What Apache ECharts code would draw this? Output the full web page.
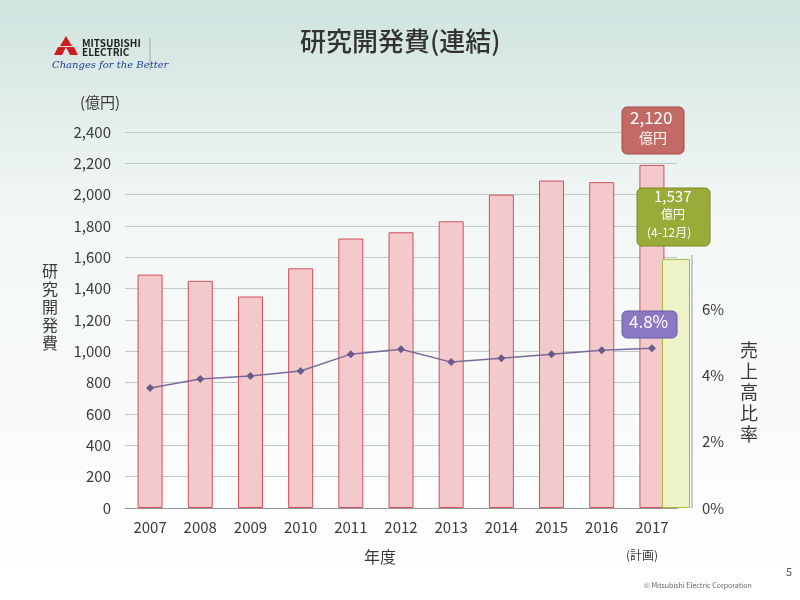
<!DOCTYPE html>
<html><head><meta charset="utf-8">
<script src="https://cdn.jsdelivr.net/npm/echarts@6/dist/echarts.min.js"></script>
<style>html,body{margin:0;padding:0;}#c{width:800px;height:600px;}</style>
</head><body><div id="c"></div>
<script>
const years = ['2007','2008','2009','2010','2011','2012','2013','2014','2015','2016','2017'];
const rdCost = [1490,1450,1350,1530,1720,1760,1830,2000,2090,2080,2190];
const rdCostPartial = [1590];
const ratio = [3.62,3.89,3.98,4.13,4.64,4.79,4.40,4.52,4.64,4.76,4.82];

const chart = echarts.init(document.getElementById('c'));
const F = '"Noto Sans CJK JP", sans-serif';
const tc = '#3a3a3a';
const g = [
    {type:'text',left:300,top:28,style:{text:'研究開発費(連結)',font:'500 26px '+F,fill:'#333'}},
    {type:'polygon',shape:{points:[[66,36],[72,46],[60,46]]},style:{fill:'#d01c1c'}},
    {type:'polygon',shape:{points:[[58,47],[66,47],[62,55],[54,55]]},style:{fill:'#d01c1c'}},
    {type:'polygon',shape:{points:[[66,47],[74,47],[78,55],[70,55]]},style:{fill:'#d01c1c'}},
    {type:'text',left:82,top:38,style:{text:'MITSUBISHI\nELECTRIC',font:'bold 10px '+F,fill:'#222',lineHeight:9}},
    {type:'text',left:52,top:60,style:{text:'Changes for the Better',font:'italic 10px "DejaVu Serif", serif',fill:'#1f3f8f'}},
    {type:'line',shape:{x1:150,y1:38,x2:150,y2:70},style:{stroke:'#aaa'}},
    {type:'line',shape:{x1:692,y1:255,x2:692,y2:508},style:{stroke:'#999'}},
    {type:'text',left:80,top:95,style:{text:'(億円)',font:'15px '+F,fill:tc}},
    {type:'text',left:42,top:262,style:{text:'研\n究\n開\n発\n費',font:'16px '+F,fill:tc,lineHeight:18}},
    {type:'text',left:740,top:340,style:{text:'売\n上\n高\n比\n率',font:'18px '+F,fill:tc,lineHeight:21}},
    {type:'text',left:364,top:549,style:{text:'年度',font:'16px '+F,fill:tc}},
    {type:'text',left:626,top:549,style:{text:'(計画)',font:'12px '+F,fill:tc}},
    {type:'text',left:786,top:566,style:{text:'5',font:'11px '+F,fill:'#555'}},
    {type:'text',left:644,top:582,style:{text:'© Mitsubishi Electric Corporation',font:'7px '+F,fill:'#666'}},
    {type:'rect',shape:{x:622,y:107,width:62,height:47,r:5},style:{fill:'#c46a66',stroke:'#a04a46'}},
    {type:'text',left:630,top:109,style:{text:'2,120',font:'17px '+F,fill:'#fff'}},
    {type:'text',left:639,top:131,style:{text:'億円',font:'14px '+F,fill:'#fff'}},
    {type:'rect',shape:{x:637,y:188,width:73,height:58,r:5},style:{fill:'#9aab3a',stroke:'#7a8a20'}},
    {type:'text',left:654,top:189,style:{text:'1,537',font:'15px '+F,fill:'#fff'}},
    {type:'text',left:661,top:208,style:{text:'億円',font:'12px '+F,fill:'#fff'}},
    {type:'text',left:647,top:226,style:{text:'(4-12月)',font:'12px '+F,fill:'#fff'}},
    {type:'rect',shape:{x:622,y:311,width:55,height:27,r:5},style:{fill:'#8a7ac4',stroke:'#6a5aa4'}},
    {type:'text',left:629,top:313,style:{text:'4.8%',font:'17px '+F,fill:'#fff'}}
].map(e=>Object.assign(e,{z:100}));
chart.setOption({
  backgroundColor: {type:'linear',x:0,y:0,x2:0,y2:1,colorStops:[{offset:0,color:'#cfe3df'},{offset:0.35,color:'#f2f7f5'},{offset:1,color:'#ffffff'}]},
  textStyle:{fontFamily:F},
  grid:[{left:125,right:123,top:132,bottom:92},{left:661,width:30,top:132,bottom:92}],
  xAxis:[
    {type:'category',data:years,gridIndex:0,axisTick:{show:false},axisLine:{lineStyle:{color:'#999'}},
     axisLabel:{color:tc,fontSize:15,margin:12,fontFamily:F}},
    {type:'category',data:['2017'],gridIndex:1,show:false}
  ],
  yAxis:[
    {type:'value',gridIndex:0,min:0,max:2400,interval:200,axisLine:{show:false},axisTick:{show:false},
     splitLine:{lineStyle:{color:'#bfc9c6'}},
     axisLabel:{color:tc,fontSize:15,margin:14,formatter:v=>v.toLocaleString('en-US')}},
    {type:'value',gridIndex:0,min:0,max:11.34,interval:2,position:'right',offset:15,
     axisLine:{show:false},axisTick:{show:false},splitLine:{show:false},
     axisLabel:{color:tc,fontSize:15,margin:10,formatter:v=>v<=6?v+'%':''}},
    {type:'value',gridIndex:1,min:0,max:2400,show:false,splitLine:{show:false}}
  ],
  series:[
    {type:'bar',data:rdCost,xAxisIndex:0,yAxisIndex:0,barWidth:25,
     itemStyle:{color:'#f3c9cc',borderColor:'#d0505c',borderWidth:1}},
    {type:'bar',data:rdCostPartial,xAxisIndex:1,yAxisIndex:2,barWidth:28,
     itemStyle:{color:'#eef2c8',borderColor:'#a8b840',borderWidth:1}},
    {type:'line',data:ratio,xAxisIndex:0,yAxisIndex:1,symbol:'diamond',symbolSize:8,
     lineStyle:{color:'#7a6a9a',width:1.5},itemStyle:{color:'#6a5a8a'},z:5}
  ],
  graphic:g
});
</script></body></html>
